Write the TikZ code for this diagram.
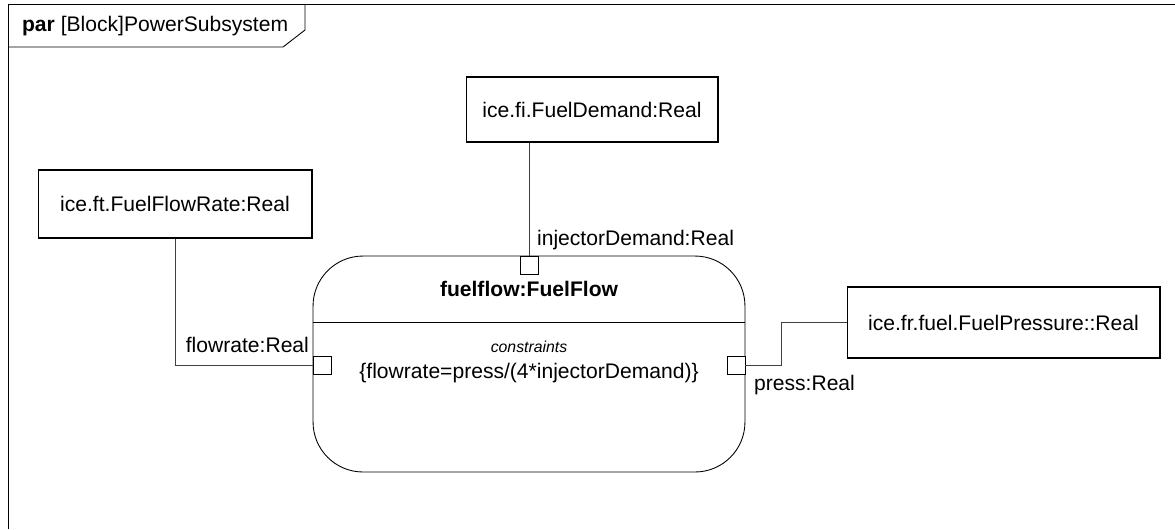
\documentclass[tikz,border=0pt]{standalone}
\usepackage{fontspec}
\setmainfont{Liberation Sans}
\usetikzlibrary{shadows,calc}

\tikzset{
  prop/.style={draw, fill=white, line width=0.6pt, inner sep=0pt,
    drop shadow={shadow xshift=0.025cm, shadow yshift=-0.025cm, opacity=1, fill=black}},
  port/.style={draw, fill=white, line width=0.5pt, minimum size=0.36cm, inner sep=0pt},
  wire/.style={draw=black!75, line width=0.5pt},
  lbl/.style={inner sep=1pt},
}

\begin{document}
\begin{tikzpicture}[x=0.02cm, y=-0.02cm, font=\fontsize{12}{14}\selectfont]
\useasboundingbox (0,0) rectangle (1175,529);
% diagram frame
\draw[line width=0.5pt] (8,529) -- (8,4) -- (1175,4);
\draw[line width=0.5pt] (8,47) -- (283,47) -- (305,30) -- (305,4);
\node[lbl, anchor=west] (title) at (20,26) {\textbf{par} [Block]PowerSubsystem};

% constraint block
\node[draw, line width=0.5pt, rounded corners=1.0cm, minimum width=8.64cm, minimum height=4.32cm] (ff) at (529,364) {};
\draw[line width=0.5pt] (ff.west |- 0,322) -- (ff.east |- 0,322);
\node[font=\fontsize{12}{14}\selectfont\bfseries] (ffname) at (529,289) {fuelflow:FuelFlow};
\node[font=\fontsize{9}{11}\selectfont\itshape] (cons) at (529,347) {constraints};
\node (eqn) at (529,373) {\{flowrate=press/(4*injectorDemand)\}};

% ports
\node[port] (pdem) at (529,265) {};
\node[port] (prate) at (322,365) {};
\node[port] (ppress) at (736,365) {};

% value properties
\node[prop, minimum width=5.04cm, minimum height=1.3cm] (fdem) at (592,109.5) {ice.fi.FuelDemand:Real};
\node[prop, minimum width=5.48cm, minimum height=1.36cm] (frate) at (175,204) {ice.ft.FuelFlowRate:Real};
\node[prop, minimum width=6.26cm, minimum height=1.42cm] (fpress) at (1003.5,322.5) {ice.fr.fuel.FuelPressure::Real};

% binding connectors
\draw[wire] (fdem.south -| pdem) -- (pdem.north);
\draw[wire] (prate.west) -| (frate.south);
\coordinate (bend) at ($(ppress.east)+(36,0)$);
\draw[wire] (ppress.east) -- (bend) |- (fpress.west);

% port labels
\node[lbl, anchor=west] (ldem) at (535,240) {injectorDemand:Real};
\node[lbl, anchor=east] (lrate) at (311,345) {flowrate:Real};
\node[lbl, anchor=west] (lpress) at (752,385) {press:Real};
\end{tikzpicture}
\end{document}
